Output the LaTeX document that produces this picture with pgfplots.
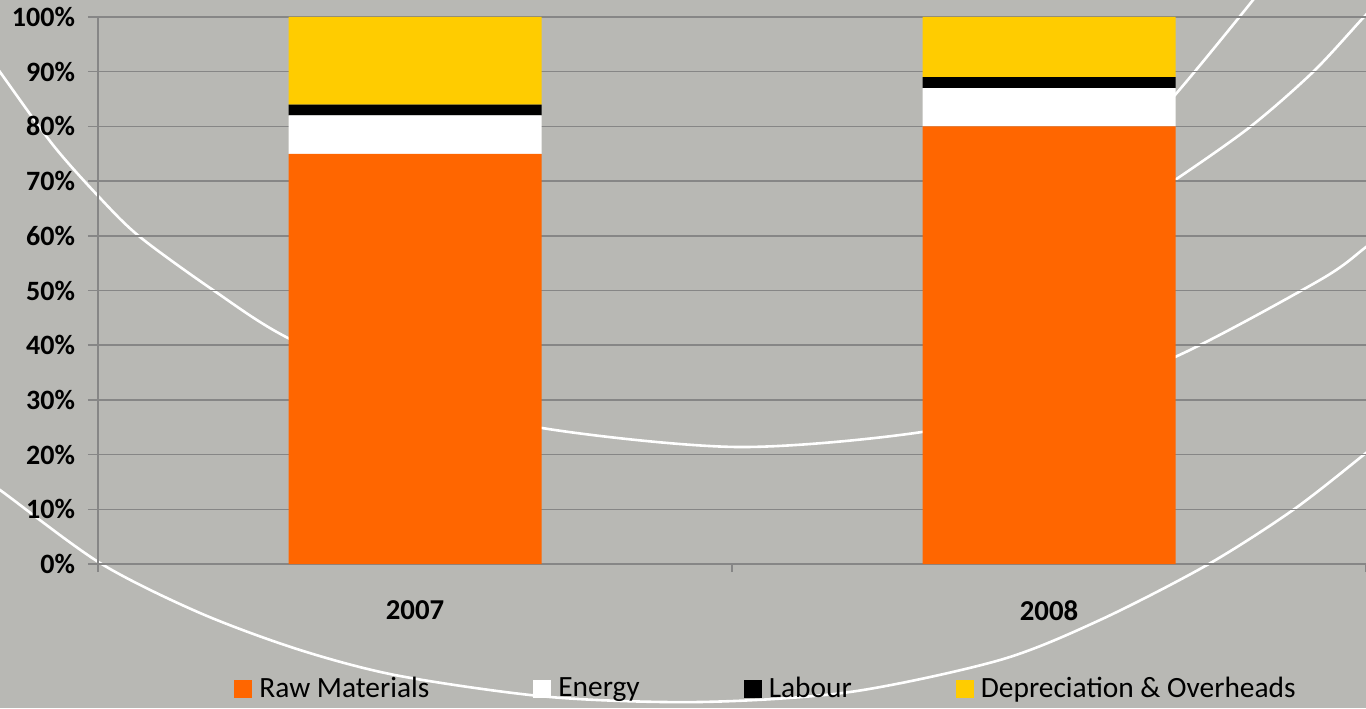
\documentclass[border=0pt]{standalone}
\usepackage{fontspec}
\setmainfont{Carlito}
\usepackage{pgfplots}
\pgfplotsset{compat=1.18}
\definecolor{bgc}{RGB}{184,184,180}
\definecolor{gridc}{RGB}{134,134,134}
\definecolor{rawc}{RGB}{255,102,0}
\definecolor{depc}{RGB}{255,204,0}
\begin{document}
\begin{tikzpicture}
\useasboundingbox (0,0) rectangle (683pt,354pt);
\fill[bgc] (0,0) rectangle (683pt,354pt);
\begin{scope}
\clip (0,0) rectangle (683pt,354pt);
\begin{scope}[shift={(0pt,354pt)}, x=0.5pt, y=-0.5pt]
\draw[white, line width=1.3pt] plot[smooth] coordinates {(-30,30) (0,72) (53,145) (100,198) (140,237) (213,290) (288,338) (420,395) (542,428) (737,447) (922,432) (1050,400) (1175,357) (1320,280) (1366,247) (1400,220)};
\draw[white, line width=1.3pt] plot[smooth] coordinates {(1110,165) (1175,95) (1253,0) (1270,-25)};
\draw[white, line width=1.3pt] plot[smooth] coordinates {(1110,222) (1175,180) (1250,127) (1313,72) (1363,18) (1385,-5)};
\draw[white, line width=1.3pt] plot[smooth] coordinates {(-30,470) (0,490) (100,563) (200,613) (300,650) (400,676) (550,697) (700,702) (850,692) (1000,660) (1100,620) (1207,565) (1293,510) (1366,453) (1400,425)};
\end{scope}
\end{scope}
\begin{axis}[
  at={(49pt,72pt)}, anchor=south west,
  scale only axis, width=634pt, height=273.5pt,
  xmin=-0.5, xmax=1.5, ymin=0, ymax=100,
  ybar stacked, bar width=126.5pt,
  axis x line*=bottom, axis y line*=left,
  axis line style={gridc, line width=0.75pt},
  xtick={0,1}, xticklabels={2007,2008},
  minor xtick={-0.5,0.5,1.5},
  ytick={0,10,20,30,40,50,60,70,80,90,100},
  yticklabels={0\%,10\%,20\%,30\%,40\%,50\%,60\%,70\%,80\%,90\%,100\%},
  tick align=outside, major tick length=5pt, minor tick length=4pt,
  major x tick style={draw=none},
  minor x tick style={gridc, line width=0.75pt},
  major y tick style={gridc, line width=0.75pt},
  ymajorgrids, grid style={gridc, line width=0.75pt},
  ticklabel style={font=\bfseries\fontsize{14}{16}\selectfont, text=black},
  yticklabel style={xshift=-3pt},
  xticklabel style={yshift=-10pt, font=\bfseries\fontsize{14.4}{16}\selectfont},
  legend style={at={(rel axis cs:0.5276,-0.2285)}, anchor=center, draw=none, fill=none,
    font=\fontsize{14.7}{16}\selectfont, text=black,
    /tikz/every odd column/.append style={column sep=1.5pt},
    /tikz/every even column/.append style={column sep=50pt}},
  legend columns=-1,
  legend image code/.code={\fill[#1] (0pt,-4.5pt) rectangle (9pt,4.5pt);},
]
\addplot[fill=rawc, draw=none] coordinates {(0,75) (1,80)};
\addplot[fill=white, draw=none] coordinates {(0,7) (1,7)};
\addplot[fill=black, draw=none] coordinates {(0,2) (1,2)};
\addplot[fill=depc, draw=none] coordinates {(0,16) (1,11)};
\legend{Raw Materials, Energy, Labour, Depreciation \& Overheads}
\end{axis}
\end{tikzpicture}
\end{document}
